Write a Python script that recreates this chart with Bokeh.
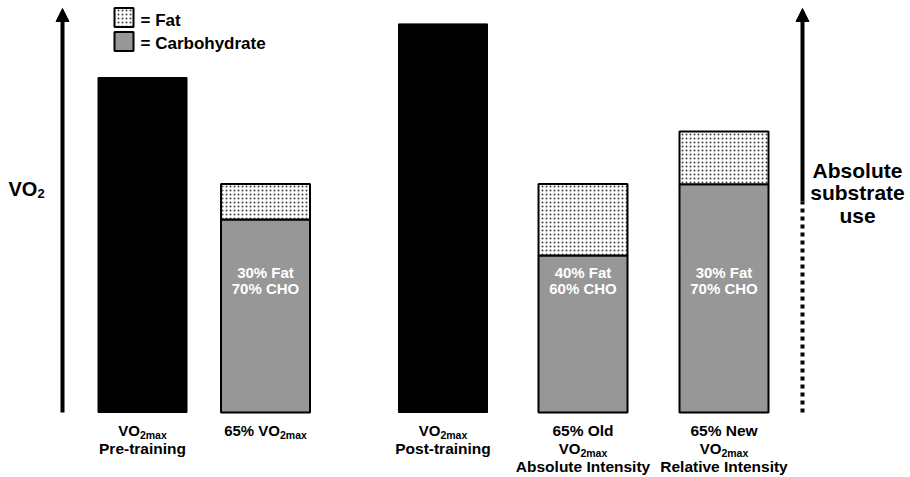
from bokeh.plotting import figure
from bokeh.models import Range1d, Arrow, NormalHead
from bokeh.core.properties import value
from bokeh.embed import file_html
from bokeh.resources import INLINE

# ---------------- data (relative VO2 units, pre-training VO2max = 100) ----------
vo2max_conditions = ["VO2max Pre-training", "VO2max Post-training"]
vo2max_values = [100, 116]

exercise_conditions = ["65% VO2max", "65% Old VO2max Absolute Intensity",
                       "65% New VO2max Relative Intensity"]
cho_values = [57.6, 46.9, 68.1]
fat_values = [10.6, 21.3, 15.8]
pct_fat = [30, 40, 30]
pct_cho = [70, 60, 70]

legend_labels = ["= Fat", "= Carbohydrate"]
left_axis_label = ("VO", "2")
right_axis_label = ["Absolute", "substrate", "use"]

# ---------------- layout ----------------
W, H = 910, 477
PX = 3.35            # pixels per VO2 unit
BASE = 412           # page y of the baseline
FONT = "Liberation Sans"
GRAY = "#979797"

def py(page_y):
    return (BASE - page_y) / PX

black_x = [142, 442.5]
stack_x = [265, 582.5, 723.5]
BAR_W = 89

p = figure(width=W, height=H, output_backend="svg", toolbar_location=None,
           x_range=Range1d(0, W), y_range=Range1d(py(H), py(0)),
           x_axis_type=None, y_axis_type=None, min_border=0)
p.outline_line_color = None
p.grid.visible = False
p.background_fill_color = "white"

# black VO2max bars
p.vbar(x=black_x, top=vo2max_values, bottom=0, width=BAR_W,
       fill_color="black", line_color="black")

# stacked substrate bars
fat_top = [c + f for c, f in zip(cho_values, fat_values)]
p.vbar(x=stack_x, bottom=0, top=cho_values, width=BAR_W,
       fill_color=GRAY, line_color="black", line_width=2)
p.vbar(x=stack_x, bottom=cho_values, top=fat_top, width=BAR_W,
       fill_color="white", line_color="black", line_width=2,
       hatch_pattern="dot", hatch_color="black", hatch_scale=4,
       hatch_weight=1, hatch_alpha=0.75)

# ---------- text helpers ----------
WID = {"V": .667, "O": .778, "6": .556, "5": .556, "%": .889, " ": .278,
       "2": .556, "m": .889, "a": .556, "x": .556, "l": .278, "d": .611}

def tw(s, size):
    return sum(WID.get(c, .6) for c in s) * size

def put(x, center, s, size, align="center", color="black"):
    p.text(x=[x], y=[py(center)], text=[s], text_color=color,
           text_font=value(FONT), text_font_style="bold",
           text_font_size=f"{size}px", text_align=align,
           text_baseline="middle")

# in-bar labels
p.text(x=stack_x, y=[py(271.5)] * 3, text=[f"{v}% Fat" for v in pct_fat],
       text_color="white", text_font=value(FONT), text_font_style="bold",
       text_font_size="15px", text_align="center", text_baseline="middle")
p.text(x=stack_x, y=[py(288)] * 3, text=[f"{v}% CHO" for v in pct_cho],
       text_color="white", text_font=value(FONT), text_font_style="bold",
       text_font_size="15px", text_align="center", text_baseline="middle")

def vo2max_line(cx, center, prefix="VO", size=15, sub=10.5):
    total = tw(prefix, size) + tw("2max", sub)
    start = cx - total / 2
    put(start, center, prefix, size, "left")
    put(start + tw(prefix, size), center + 4.6, "2max", sub, "left")

L1, L2, L3 = 430, 448, 466   # label centres
# bar 1
vo2max_line(black_x[0], L1)
put(black_x[0], L2, "Pre-training", 15.5)
# bar 2
vo2max_line(stack_x[0], L1, prefix="65% VO")
# bar 3
vo2max_line(black_x[1], L1)
put(black_x[1], L2, "Post-training", 15.5)
# bar 4
put(stack_x[1], L1, "65% Old", 15.5)
vo2max_line(stack_x[1], L2)
put(stack_x[1], L3, "Absolute Intensity", 15.5)
# bar 5
put(stack_x[2], L1, "65% New", 15.5)
vo2max_line(stack_x[2], L2)
put(stack_x[2], L3, "Relative Intensity", 15.5)

# left axis arrow and label
p.add_layout(Arrow(end=NormalHead(size=13, fill_color="black", line_color="black"),
                   x_start=62, y_start=py(BASE), x_end=62, y_end=py(8),
                   line_width=4, line_color="black"))
put(8, 188, left_axis_label[0], 20, "left")
put(8 + tw("VO", 20), 193, left_axis_label[1], 13, "left")

# right axis arrow (solid top, dotted bottom) and label
p.add_layout(Arrow(end=NormalHead(size=13, fill_color="black", line_color="black"),
                   x_start=802, y_start=py(201), x_end=802, y_end=py(8),
                   line_width=4, line_color="black"))
p.segment(x0=[802], y0=[py(BASE)], x1=[802], y1=[py(201)], line_width=4,
          line_color="black", line_dash="4 4", line_cap="butt")
for s, c in zip(right_axis_label, [170, 192, 214.5]):
    put(857, c, s, 21)

# legend
p.rect(x=[123.5], y=[py(17)], width=19, height=19, width_units="screen",
       height_units="screen", fill_color="white", line_color="black", line_width=2,
       hatch_pattern="dot", hatch_color="black", hatch_scale=4, hatch_weight=1,
       hatch_alpha=0.75)
p.rect(x=[123.5], y=[py(41)], width=19, height=19, width_units="screen",
       height_units="screen", fill_color=GRAY, line_color="black", line_width=2)
put(140, 20, legend_labels[0], 17, "left")
put(140, 43, legend_labels[1], 17, "left")

open("out.html", "w").write(file_html(p, INLINE))
